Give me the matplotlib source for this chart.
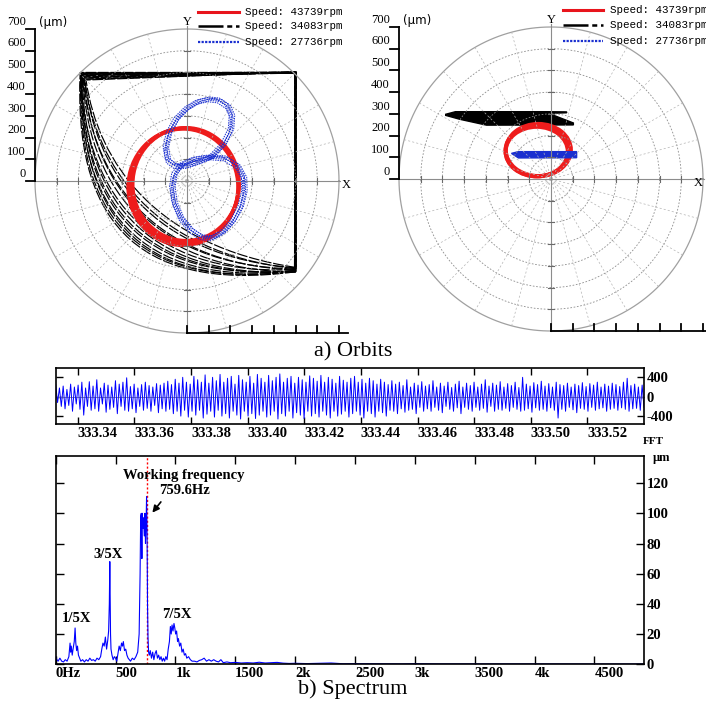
import numpy as np
import matplotlib.pyplot as plt
from matplotlib.path import Path
from matplotlib.patches import PathPatch, Ellipse
from matplotlib.lines import Line2D

plt.rcParams['font.family'] = ['Liberation Serif', 'DejaVu Serif']

# ---------------- data ----------------
# orbit plots (um)
ring_radii = [100, 200, 300, 400, 500, 600, 700]
scale_ticks = [0, 100, 200, 300, 400, 500, 600, 700]
spoke_angles = np.arange(0, 360, 15)
speeds = ['43739', '34083', '27736']

# left orbit, red (43739 rpm): ellipse centre x, y, width, height
red_l_cx = [-12, -5, -18, -10]
red_l_cy = [-21, -15, -28, -22]
red_l_w = [500, 490, 506, 496]
red_l_h = [528, 520, 536, 530]

# left orbit, black (34083 rpm): one cubic per cycle, bottom-right -> top-left
fan_x0 = [-492, -488, -485, -490, -480, -475, -470, -486, -478, -465, -489, -482, -472, -484]
fan_y0 = [500, 495, 490, 485, 480, 492, 470, 498, 475, 465, 488, 478, 468, 494]
fan_c1x = [-520, -505, -490, -470, -460, -450, -430, -500, -445, -410, -512, -475, -420, -495]
fan_c1y = [-150, -100, -60, -20, 10, 30, 60, -120, 40, 80, -130, -40, 70, -80]
fan_c2x = [-260, -240, -230, -210, -200, -190, -170, -250, -180, -140, -255, -220, -160, -235]
fan_c2y = [-520, -500, -470, -440, -410, -390, -350, -510, -380, -300, -515, -455, -330, -480]
fan_x3 = [500, 498, 502, 495, 500, 497, 503, 499, 496, 501, 498, 502, 499, 500]
fan_y3 = [-418, -412, -415, -408, -420, -405, -400, -416, -410, -398, -414, -418, -404, -411]
top_y = [500, 502, 497, 499, 503, 498, 501, 496, 500, 502, 499, 497, 501, 500]
right_x = [500, 497, 502, 499, 503, 496, 500, 498, 501, 504, 497, 500, 503, 499]

# left orbit, blue (27736 rpm): one loop + drift of the repeats
blue_loop_x = [110, 165, 200, 205, 185, 145, 100, 50, 0, -50, -85, -100, -90, -55, 0, 60,
               110, 175, 230, 260, 262, 245, 210, 165, 115, 65, 15, -30, -60, -70, -60, -25,
               30, 80, 110]
blue_loop_y = [110, 165, 235, 300, 345, 372, 377, 365, 335, 285, 220, 150, 95, 70, 70, 90,
               110, 105, 70, 15, -50, -120, -185, -235, -262, -258, -225, -170, -100, -30, 30, 75,
               100, 108, 110]
blue_dx = [-10, 0, 8, 15, -5, 4]
blue_dy = [6, 0, -6, 3, -12, 10]

# right orbit
red_r_cx = [-62, -66, -58]
red_r_cy = [130, 126, 134]
red_r_w = [296, 286, 300]
red_r_h = [236, 228, 240]
black_r_x = [-485, -440, -20, 72, 72, -10, 103, 103, -297, -420, -485]
black_r_y = [298, 310, 310, 309, 305, 302, 258, 249, 248, 275, 293]
blue_r_x = [-182, -150, 118, 118, -150]
blue_r_y = [118, 126, 126, 98, 97]

# time waveform (um), alternating maxima / minima
wave_um = [
    250, -120, 180, -200, 220, -250, 150, -180, 260, -300, 200, -150, 240, -260, 300, -380, 180, -200, 310, -280,
    220, -250, 350, -300, 180, -150, 280, -320, 240, -260, 200, -220, 330, -350, 260, -200, 300, -280, 390, -300,
    210, -250, 260, -330, 180, -200, 250, -280, 300, -240, 230, -300, 200, -180, 270, -330, 240, -250, 280, -300,
    320, -260, 250, -350, 360, -300, 280, -400, 400, -280, 300, -420, 260, -300, 420, -380, 350, -280, 300, -440,
    450, -360, 280, -300, 400, -420, 330, -280, 460, -400, 300, -350, 380, -440, 420, -300, 260, -380, 440, -460,
    350, -300, 300, -400, 420, -350, 280, -450, 460, -380, 380, -300, 300, -420, 440, -380, 330, -300, 400, -460,
    470, -350, 300, -400, 380, -300, 420, -440, 280, -330, 400, -380, 350, -450, 300, -300, 430, -400, 380, -350,
    320, -420, 440, -300, 300, -380, 400, -440, 360, -300, 280, -400, 420, -360, 340, -300, 300, -420, 380, -350,
    420, -300, 300, -380, 360, -440, 280, -300, 380, -350, 330, -420, 260, -300, 360, -330, 300, -400, 250, -280,
    330, -300, 260, -350, 300, -250, 230, -320, 350, -280, 200, -260, 280, -350, 240, -220, 310, -300, 220, -250,
    250, -300, 330, -220, 200, -280, 280, -330, 220, -200, 300, -260, 190, -300, 260, -230, 320, -350, 200, -220,
    280, -260, 230, -300, 300, -220, 200, -280, 260, -240, 350, -320, 220, -200, 280, -300, 240, -260, 310, -280,
    200, -240, 270, -300, 230, -220, 300, -260, 190, -300, 400, -280, 260, -250, 220, -320, 290, -230, 250, -280,
    320, -260, 220, -300, 270, -230, 200, -280, 300, -440, 250, -260, 230, -300, 280, -220, 200, -270, 260, -330,
    230, -240, 290, -260, 210, -300, 270, -220, 240, -280, 300, -250, 200, -230, 260, -300, 220, -260, 280, -240,
    250, -280, 210, -230, 300, -260, 380, -300, 230, -250, 260, -240, 200, -280, 240, -220,
]
wave_start, wave_end = 333.3322, 333.5400
wave_xticks = [333.34, 333.36, 333.38, 333.40, 333.42, 333.44, 333.46, 333.48, 333.50, 333.52]
wave_yticks = [-400, 0, 400]

# spectrum (Hz, um)
spec_f = [0, 10, 20, 35, 50, 65, 80, 95, 110, 120, 125, 130, 138, 145, 155, 162, 168, 175, 182, 190,
          200, 210, 225, 240, 255, 270, 285, 300, 315, 330, 345, 360, 375, 385, 395, 405, 415, 425,
          435, 442, 448, 452, 455, 458, 462, 470, 480, 490, 500, 510, 520, 530, 540, 550, 558, 565,
          575, 585, 595, 605, 615, 625, 640, 655, 670, 685, 697, 705, 710, 715, 720, 724, 729, 734,
          740, 745, 750, 755, 759, 763, 767, 771, 776, 782, 790, 800, 810, 820, 830, 840, 850, 860,
          870, 880, 890, 900, 910, 920, 930, 940, 950, 958, 965, 972, 980, 988, 995, 1002, 1010,
          1018, 1025, 1035, 1045, 1055, 1065, 1075, 1085, 1095, 1110, 1125, 1140, 1160, 1180, 1200,
          1220, 1240, 1260, 1280, 1300, 1320, 1340, 1360, 1380, 1400, 1430, 1460, 1500, 1550, 1600,
          1650, 1700, 1750, 1800, 1850, 1900, 1950, 2000, 2100, 2200, 2300, 2400, 2500, 2700, 2900,
          3000, 3200, 3500, 4000, 4500, 4912]
spec_a = [5, 3, 2, 4, 2, 1.5, 3, 2, 5, 14, 8, 12, 6, 10, 15, 24, 14, 9, 12, 6,
          4, 2, 3, 1.5, 3, 2, 4, 2.5, 3, 2, 4, 3, 5, 10, 14, 12, 18, 10,
          16, 22, 40, 68, 42, 20, 10, 6, 3, 5, 4, 2, 7, 12, 9, 14, 12, 15,
          9, 10, 6, 4, 3, 2, 4, 3, 5, 8, 20, 60, 98, 100, 70, 100, 90, 97,
          85, 100, 80, 92, 111, 90, 40, 18, 8, 6, 9, 4, 8, 3, 7, 9, 4, 6,
          3, 5, 2, 4, 2, 5, 3, 10, 15, 25, 20, 26, 22, 27, 24, 20, 22,
          15, 17, 12, 14, 8, 10, 6, 7, 4, 5, 3, 2, 2, 1.5, 2.5,
          3, 4, 2, 3, 2, 3, 2, 1.5, 3, 1, 1.5, 1, 1.2, 0.8, 1,
          0.8, 1.3, 0.8, 1, 1.2, 0.7, 0.5, 0.6, 0.4, 0.6, 0.8, 0.3, 0.4, 0.3, 0.2,
          0.4, 0.2, 0.2, 0.2, 0.1, 0.1]
spec_xticks = [0, 500, 1000, 1500, 2000, 2500, 3000, 3500, 4000, 4500]
spec_xlabels = ['0Hz', '500', '1k', '1500', '2k', '2500', '3k', '3500', '4k', '4500']
spec_yticks = [0, 20, 40, 60, 80, 100, 120]
work_freq = 759.6

# ---------------- figure ----------------
W = H = 706
fig = plt.figure(figsize=(W / 100, H / 100), dpi=100)
SCALE = 152 / 700  # px per um on the orbit plots
GRID = '#8c8c8c'


def px_axes(x0, y0, x1, y1):
    return fig.add_axes([x0 / W, 1 - y1 / H, (x1 - x0) / W, (y1 - y0) / H])


def orbit_axes(x0, x1, cx, cy):
    ax = px_axes(x0, 0, x1, 345)
    ax.set_xlim((x0 - cx) / SCALE, (x1 - cx) / SCALE)
    ax.set_ylim((cy - 345) / SCALE, cy / SCALE)
    ax.axis('off')
    return ax


def orbit_frame(ax, bottom_end, x_label_at):
    t = np.linspace(0, 2 * np.pi, 400)
    for r in ring_radii[:-1]:
        ax.plot(r * np.cos(t), r * np.sin(t), color=GRID, lw=0.6, ls=(0, (2, 2)))
    ax.plot(700 * np.cos(t), 700 * np.sin(t), color='#a0a0a0', lw=0.9)
    for a in np.radians(spoke_angles):
        ax.plot([0, 700 * np.cos(a)], [0, 700 * np.sin(a)], color='#b4b4b4', lw=0.5, ls=(0, (3, 3)))
    ax.plot([0, 0], [-700, 712], color=GRID, lw=0.8)
    ax.plot([-700, 705], [0, 0], color=GRID, lw=0.8)
    for r in ring_radii[:-1]:
        for s in (-1, 1):
            ax.plot([-14, 14], [s * r, s * r], color='#6a6a6a', lw=0.8)
            ax.plot([s * r, s * r], [-14, 14], color='#6a6a6a', lw=0.8)
    ax.plot([-700, -700], [0, 700], color='k', lw=1.3)
    for v in scale_ticks:
        ax.plot([-740, -700], [v, v], color='k', lw=1.3)
        ax.text(-742, v + 6, str(v), ha='right', va='bottom', fontsize=9)
    ax.text(-682, 728, '(μm)', ha='left', va='center', fontsize=8.5, family=['DejaVu Sans'])
    ax.plot([0, bottom_end], [-700, -700], color='k', lw=1.3)
    for v in scale_ticks:
        ax.plot([v, v], [-700, -668], color='k', lw=1.3)
    ax.text(0, 730, 'Y', ha='center', va='center', fontsize=9)
    ax.text(x_label_at, -20, 'X', ha='left', va='center', fontsize=9)


def orbit_legend(x_line, x_text, rows):
    styles = [dict(color='#e8141c', lw=2.2, ls='-'),
              dict(color='k', lw=1.8, ls=(0, (10, 1.5, 2, 1.5))),
              dict(color='#1a2fd0', lw=1.6, ls=(0, (1, 0.6)))]
    for sp, st, y in zip(speeds, styles, rows):
        fig.add_artist(Line2D([x_line[0] / W, x_line[1] / W], [1 - y / H] * 2, **st))
        fig.text(x_text / W, 1 - y / H, 'Speed: ' + sp + 'rpm', ha='left', va='center',
                 fontsize=7.8, family=['Liberation Mono'])


# left orbit
ax1 = orbit_axes(0, 353, 187, 181)
orbit_frame(ax1, 741, 712)
for i in range(len(fan_x0)):
    verts = [(fan_x3[i], fan_y3[i]), (fan_c2x[i], fan_c2y[i]), (fan_c1x[i], fan_c1y[i]),
             (fan_x0[i], fan_y0[i]), (right_x[i], top_y[i]), (fan_x3[i], fan_y3[i])]
    codes = [Path.MOVETO, Path.CURVE4, Path.CURVE4, Path.CURVE4, Path.LINETO, Path.LINETO]
    ax1.add_patch(PathPatch(Path(verts, codes), fill=False, edgecolor='k', lw=0.85,
                            ls=(0, (9, 1.5))))
for cx, cy, w, h in zip(red_l_cx, red_l_cy, red_l_w, red_l_h):
    ax1.add_patch(Ellipse((cx, cy), w, h, fill=False, edgecolor='#ee1c1c', lw=2.6))
for dx, dy in zip(blue_dx, blue_dy):
    ax1.plot(np.array(blue_loop_x) + dx, np.array(blue_loop_y) + dy, color='#1a2fd0',
             lw=0.7, ls=(0, (1.5, 1)))
orbit_legend((198, 239), 245, (12, 26, 42))

# right orbit
ax2 = orbit_axes(353, 706, 551, 179)
orbit_frame(ax2, 740, 655)
ax2.fill(black_r_x, black_r_y, color='k', lw=1)
for cx, cy, w, h in zip(red_r_cx, red_r_cy, red_r_w, red_r_h):
    ax2.add_patch(Ellipse((cx, cy), w, h, fill=False, edgecolor='#ee1c1c', lw=2.8))
ax2.fill(blue_r_x, blue_r_y, color='#1a2fd0', lw=1)
orbit_legend((563, 603), 610, (10, 25, 41))

fig.text(353 / W, 1 - 352 / H, 'a) Orbits', ha='center', va='center', fontsize=16)

# time waveform
tick_font = dict(fontsize=10.5, fontweight='bold')
ax3 = px_axes(55.7, 368, 644, 424.3)
wave_t = np.linspace(wave_start, wave_end, len(wave_um))
ax3.axhline(0, color='#909090', lw=0.7)
ax3.plot(wave_t, wave_um, color='#0000ff', lw=0.7)
ax3.set_xlim(wave_start, wave_end)
ax3.set_ylim(-569, 592)
ax3.set_xticks(wave_xticks)
ax3.set_xticklabels(['%.2f' % v for v in wave_xticks], ha='left', **tick_font)
ax3.set_yticks(wave_yticks)
ax3.set_yticklabels([str(v) for v in wave_yticks], **tick_font)
ax3.tick_params(direction='in', top=True, right=True, left=True, labelleft=False,
                labelright=True, length=5, width=1, pad=2)

# spectrum
ax4 = px_axes(55.7, 456, 643.7, 664.2)
ax4.axvline(work_freq, color='red', lw=1, ls=(0, (1.5, 1.5)))
ax4.plot(spec_f, spec_a, color='#0000ff', lw=0.8)
ax4.set_xlim(0, 4912)
ax4.set_ylim(0, 138)
ax4.set_xticks(spec_xticks)
ax4.set_xticklabels(spec_xlabels, ha='left', **tick_font)
ax4.set_yticks(spec_yticks)
ax4.set_yticklabels([str(v) for v in spec_yticks], **tick_font)
ax4.tick_params(direction='in', top=True, right=True, left=True, labelleft=False,
                labelright=True, length=6, width=1, pad=2)
ann = dict(fontsize=10.5, fontweight='bold', ha='center', va='center')
ax4.text(1069, 125, 'Working frequency', **ann)
ax4.text(1074, 115, '759.6Hz', **ann)
ax4.text(441, 73, '3/5X', **ann)
ax4.text(178, 30, '1/5X', **ann)
ax4.text(1014, 33, '7/5X', **ann)
ax4.annotate('', xy=(793, 99), xytext=(893, 109),
             arrowprops=dict(arrowstyle='-|>', color='k', lw=1.2, mutation_scale=10))

fig.text(653 / W, 1 - 442 / H, 'FFT', ha='center', va='center', fontsize=8, fontweight='bold')
fig.text(662 / W, 1 - 458 / H, 'μm', ha='center', va='center', fontsize=9, fontweight='bold')
fig.text(353 / W, 1 - 689 / H, 'b) Spectrum', ha='center', va='center', fontsize=16)

for ax in (ax3, ax4):
    for s in ax.spines.values():
        s.set_linewidth(1.2)

fig.savefig('out.png', dpi=100, facecolor='white')
